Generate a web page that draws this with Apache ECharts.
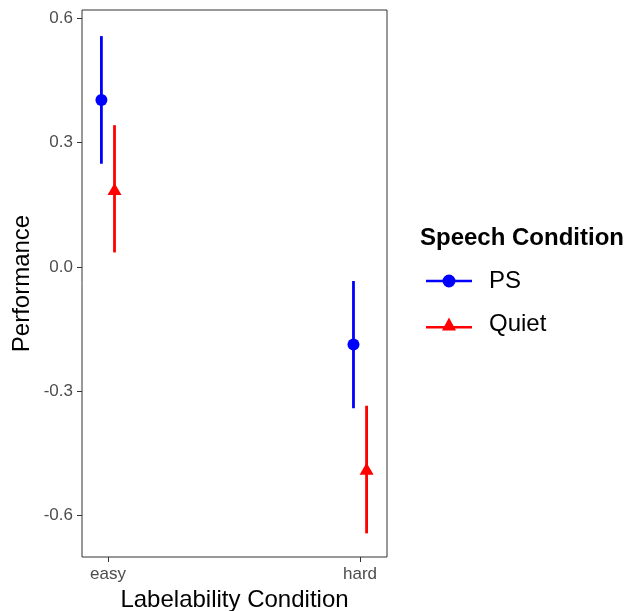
<!DOCTYPE html>
<html>
<head>
<meta charset="utf-8">
<script src="https://cdn.jsdelivr.net/npm/echarts@6/dist/echarts.min.js"></script>
<style>
  html, body { margin: 0; padding: 0; background: #fff; }
  #chart { width: 624px; height: 611px; }
</style>
</head>
<body>
<div id="chart"></div>
<script>
// data
const categories = ['easy', 'hard']
const groups = ['PS', 'Quiet']
const psMean = [0.403, -0.187]
const psLow = [0.249, -0.341]
const psHigh = [0.557, -0.034]
const quietMean = [0.188, -0.487]
const quietLow = [0.035, -0.643]
const quietHigh = [0.342, -0.335]
const yTicks = [-0.6, -0.3, 0, 0.3, 0.6]

const FONT = 'Liberation Sans'
const colors = { PS: '#0000ff', Quiet: '#ff0000' }
const dodge = { PS: -0.026, Quiet: 0.026 }

const chart = echarts.init(document.getElementById('chart'))

// error bar rows: [x, low, high]
function barRows(name, low, high) {
  return categories.map((c, i) => [i + 1 + dodge[name], low[i], high[i]])
}
function pointRows(name, mean) {
  return categories.map((c, i) => [i + 1 + dodge[name], mean[i]])
}

function errorBar(name, low, high) {
  return {
    name: name,
    type: 'custom',
    data: barRows(name, low, high),
    encode: { x: 0, y: [1, 2] },
    renderItem: function (params, api) {
      const a = api.coord([api.value(0), api.value(1)])
      const b = api.coord([api.value(0), api.value(2)])
      return {
        type: 'line',
        shape: { x1: a[0], y1: a[1], x2: b[0], y2: b[1] },
        style: { stroke: colors[name], lineWidth: 2.8 }
      }
    },
    silent: true
  }
}

const option = {
  animation: false,
  textStyle: { fontFamily: FONT },
  title: {
    text: 'Speech Condition',
    left: 420,
    top: 226,
    padding: 0,
    textStyle: { fontFamily: FONT, fontWeight: 'bold', fontSize: 24, color: '#000' }
  },
  legend: {
    orient: 'vertical',
    left: 426,
    top: 269,
    padding: 0,
    itemWidth: 46,
    itemHeight: 13,
    itemGap: 19,
    selectedMode: false,
    textStyle: { fontFamily: FONT, fontSize: 24, color: '#000', lineHeight: 24, padding: [0, 0, 0, 12] },
    data: [
      { name: 'PS', icon: 'path://M0,5.2 L46,5.2 L46,7.8 L0,7.8 Z M29.5,6.5 A6.5,6.5 0 1,1 16.5,6.5 A6.5,6.5 0 1,1 29.5,6.5 Z', itemStyle: { color: colors.PS } },
      { name: 'Quiet', icon: 'path://M0,8.4 L46,8.4 L46,11 L0,11 Z M23,0 L30,13 L16,13 Z', itemStyle: { color: colors.Quiet } }
    ]
  },
  grid: {
    left: 82, right: 237, top: 10, bottom: 54,
    outerBoundsMode: 'none',
    containLabel: false,
    show: true, borderColor: '#333333', borderWidth: 1, backgroundColor: '#fff'
  },
  xAxis: {
    type: 'value',
    min: 0.897,
    max: 2.107,
    name: 'Labelability Condition',
    nameLocation: 'middle',
    nameGap: 29,
    nameTextStyle: { fontFamily: FONT, fontSize: 24, color: '#000' },
    axisLine: { show: false, onZero: false },
    axisTick: { show: true, length: 5, lineStyle: { color: '#333' }, customValues: [1, 2] },
    axisLabel: {
      customValues: [1, 2],
      margin: 9,
      fontFamily: FONT, fontSize: 17, color: '#4d4d4d',
      formatter: v => categories[Math.round(v) - 1]
    },
    splitLine: { show: false }
  },
  yAxis: {
    type: 'value',
    min: -0.70,
    max: 0.62,
    name: 'Performance',
    nameLocation: 'middle',
    nameGap: 48,
    nameTextStyle: { fontFamily: FONT, fontSize: 24, color: '#000' },
    axisLine: { show: false, onZero: false },
    axisTick: { show: true, length: 5, lineStyle: { color: '#333' }, customValues: yTicks },
    axisLabel: {
      customValues: yTicks,
      margin: 9,
      fontFamily: FONT, fontSize: 17, color: '#4d4d4d',
      formatter: v => v.toFixed(1)
    },
    splitLine: { show: false }
  },
  series: [
    errorBar('PS', psLow, psHigh),
    errorBar('Quiet', quietLow, quietHigh),
    {
      name: 'PS', type: 'scatter', data: pointRows('PS', psMean),
      symbol: 'circle', symbolSize: 12, itemStyle: { color: colors.PS, opacity: 1 }
    },
    {
      name: 'Quiet', type: 'scatter', data: pointRows('Quiet', quietMean),
      symbol: 'triangle', symbolSize: [14, 12], itemStyle: { color: colors.Quiet, opacity: 1 }
    }
  ]
}

chart.setOption(option)
</script>
</body>
</html>
